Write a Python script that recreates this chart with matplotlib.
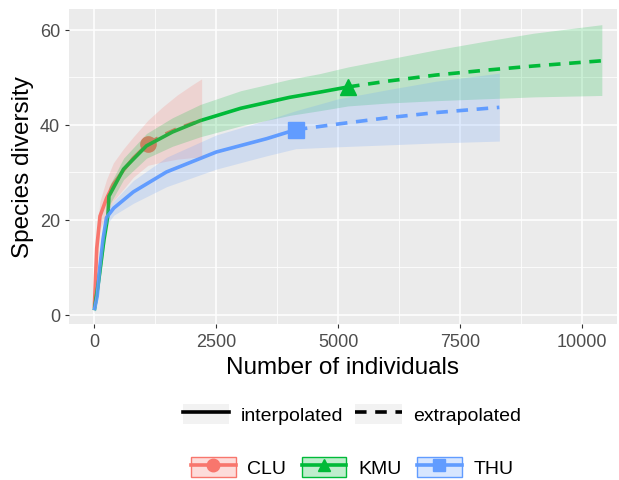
"""
Species diversity rarefaction / extrapolation curves (iNEXT style)
"""

import matplotlib
matplotlib.use("Agg")
import matplotlib.pyplot as plt
from matplotlib.lines import Line2D
from matplotlib.patches import Patch

plt.rcParams['font.family'] = ['Liberation Sans', 'DejaVu Sans']

# Sites and colours
sites = ["CLU", "KMU", "THU"]
colors = ["#F8766D", "#00BA38", "#619CFF"]
markers = ["o", "^", "s"]

# CLU
clu_x_int = [1, 15, 50, 117, 250, 390, 600, 800, 1100]
clu_y_int = [1.5, 5, 14, 20.8, 24.5, 27.5, 30.5, 33, 36]
clu_lo_int = [0.5, 3, 11, 18, 21.5, 24, 26.5, 29, 31.5]
clu_hi_int = [2.5, 7, 17, 24, 28.5, 32, 35, 37.5, 41]
clu_x_ext = [1100, 1400, 1700, 2000, 2200]
clu_y_ext = [36, 37.8, 39.2, 40.3, 41]
clu_lo_ext = [31.5, 32.2, 32.8, 33.1, 33.3]
clu_hi_ext = [41, 43.8, 46.3, 48.4, 49.7]

# KMU
kmu_x_int = [1, 100, 200, 280, 300, 600, 1070, 1600, 2170, 3000, 4000, 4620, 5200]
kmu_y_int = [1, 8, 16, 21, 25, 30.7, 35.6, 38.5, 40.9, 43.5, 45.8, 46.9, 48]
kmu_lo_int = [0.5, 6, 14, 19, 23, 28.5, 33, 35.5, 37.5, 39.8, 42, 43, 44]
kmu_hi_int = [1.5, 10, 18, 23, 27, 33, 38.2, 41.5, 44.3, 47.2, 49.6, 50.8, 52.2]
kmu_x_ext = [5200, 6000, 7000, 8000, 9000, 10400]
kmu_y_ext = [48, 49.2, 50.5, 51.5, 52.4, 53.5]
kmu_lo_ext = [44, 44.6, 45.1, 45.5, 45.9, 46.2]
kmu_hi_ext = [52.2, 53.8, 55.8, 57.6, 59.3, 61.1]

# THU
thu_x_int = [1, 60, 117, 180, 250, 400, 800, 1480, 2500, 3530, 4130]
thu_y_int = [1, 4, 10.3, 16, 20.5, 22.5, 25.9, 30.1, 34.3, 37.1, 39]
thu_lo_int = [0.5, 3, 9, 14.5, 19, 21, 23.5, 27, 30.7, 33.5, 35]
thu_hi_int = [1.5, 5, 11.5, 17.5, 22, 24, 28.3, 33.2, 37.9, 41, 43]
thu_x_ext = [4130, 5000, 6000, 7000, 8300]
thu_y_ext = [39, 40.2, 41.5, 42.6, 43.7]
thu_lo_ext = [35, 35.4, 35.8, 36.2, 36.6]
thu_hi_ext = [43, 45.5, 47.4, 49.2, 50.9]

series = [
    (clu_x_int, clu_y_int, clu_lo_int, clu_hi_int, clu_x_ext, clu_y_ext, clu_lo_ext, clu_hi_ext),
    (kmu_x_int, kmu_y_int, kmu_lo_int, kmu_hi_int, kmu_x_ext, kmu_y_ext, kmu_lo_ext, kmu_hi_ext),
    (thu_x_int, thu_y_int, thu_lo_int, thu_hi_int, thu_x_ext, thu_y_ext, thu_lo_ext, thu_hi_ext),
]

x_ticks = [0, 2500, 5000, 7500, 10000]
y_ticks = [0, 20, 40, 60]

fig = plt.figure(figsize=(6.19, 4.81), dpi=100)
ax = fig.add_axes([69 / 619, 1 - 325 / 481, 548 / 619, 315 / 481])
ax.set_facecolor("#EBEBEB")
for s in ax.spines.values():
    s.set_visible(False)

lw = 2.6
# points
for (xi, yi, *_), c, m in zip(series, colors, markers):
    ax.plot(xi[-1], yi[-1], marker=m, color=c, markersize=11, zorder=3, linestyle="none")
# lines
for (xi, yi, li, hi, xe, ye, le, he), c in zip(series, colors):
    ax.plot(xi, yi, color=c, lw=lw, zorder=3, solid_capstyle="butt")
    ax.plot(xe, ye, color=c, lw=lw, zorder=3, dashes=(3.2, 2.4))
# ribbons drawn on top, like ggiNEXT
for (xi, yi, li, hi, xe, ye, le, he), c in zip(series, colors):
    ax.fill_between(xi + xe[1:], li + le[1:], hi + he[1:], color=c, alpha=0.2, lw=0, zorder=4)

ax.set_xlim(-518, 10711)
ax.set_ylim(-1.9, 64.4)
ax.set_xticks(x_ticks)
ax.set_yticks(y_ticks)
ax.set_xticks([1250, 3750, 6250, 8750], minor=True)
ax.set_yticks([10, 30, 50], minor=True)
ax.grid(which="major", color="white", lw=1.1, zorder=0)
ax.grid(which="minor", color="white", lw=0.55, zorder=0)
ax.set_axisbelow(True)
ax.tick_params(which="major", length=3, width=0.8, color="#333333", labelcolor="#4D4D4D",
               labelsize=13, pad=3.5)
ax.tick_params(which="minor", length=0)
ax.set_xlabel("Number of individuals", fontsize=17.5, labelpad=4)
ax.set_ylabel("Species diversity", fontsize=17.5, labelpad=4)

# linetype legend
key_bg = "#F2F2F2"
lt_handles = [
    (Patch(facecolor=key_bg, edgecolor="none"), Line2D([], [], color="black", lw=lw)),
    (Patch(facecolor=key_bg, edgecolor="none"), Line2D([], [], color="black", lw=lw, dashes=(3.2, 2.4))),
]
fig.legend(lt_handles, ["interpolated", "extrapolated"], loc="center",
           bbox_to_anchor=(352 / 619, 1 - 415 / 481), ncol=2, frameon=False,
           fontsize=14, handlelength=2.4, handleheight=1.2, columnspacing=0.6,
           handletextpad=0.6)

# site legend
site_handles = [
    (Patch(facecolor=c, alpha=0.25, edgecolor="none"),
     Patch(facecolor="none", edgecolor=c, lw=1),
     Line2D([], [], color=c, lw=lw, marker=m, markersize=9))
    for c, m in zip(colors, markers)
]
fig.legend(site_handles, sites, loc="center",
           bbox_to_anchor=(352 / 619, 1 - 468 / 481), ncol=3, frameon=False,
           fontsize=14, handlelength=2.3, handleheight=1.2, columnspacing=0.8,
           handletextpad=0.6)

fig.savefig("out.png", dpi=100)
